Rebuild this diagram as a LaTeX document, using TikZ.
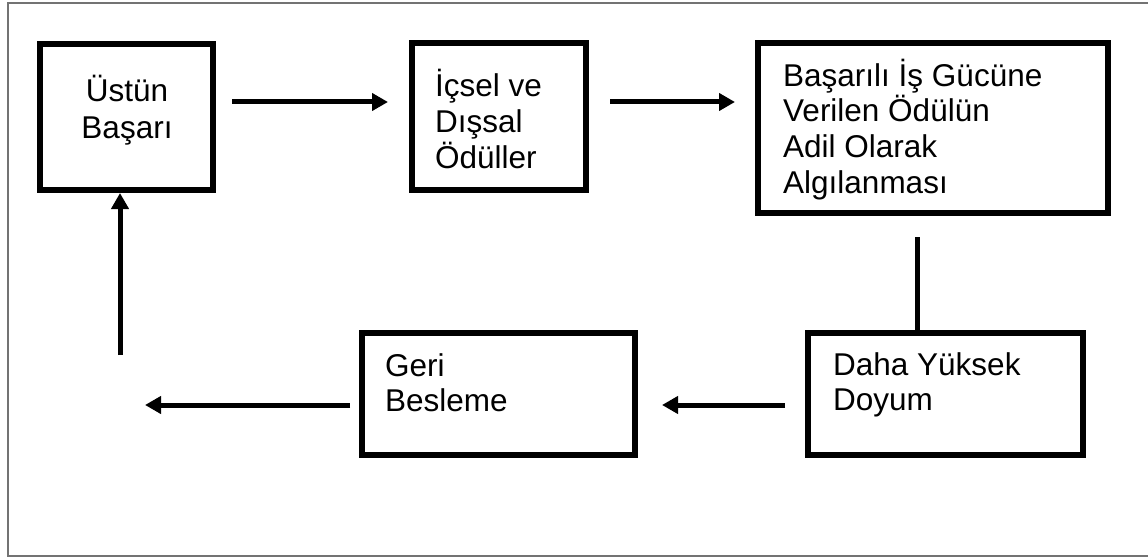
\documentclass[tikz,border=0pt]{standalone}
\usepackage{fontspec}
\setmainfont{Liberation Sans}
\usetikzlibrary{arrows.meta}
\begin{document}
\begin{tikzpicture}[x=1pt,y=-1pt,
  box/.style={draw=black,line width=6pt,inner sep=0pt,fill=white},
  label/.style={inner sep=0pt,align=left,font=\fontsize{31.5}{36}\selectfont},
  arrow/.style={line width=5pt,-{Triangle[length=16pt,width=17pt]}},
  link/.style={line width=5pt},
  frame/.style={draw=black!55,line width=2pt}]
\useasboundingbox (0,0) rectangle (1148,559);
% outer frame
\draw[frame] (8,3) rectangle (1152,556);
% boxes
\node[box,minimum width=173pt,minimum height=146pt] (b1) at (126.5,117) {};
\node[box,minimum width=174pt,minimum height=147pt] (b2) at (499,116.5) {};
\node[box,minimum width=350pt,minimum height=170pt] (b3) at (933,128) {};
\node[box,minimum width=273pt,minimum height=122pt] (b4) at (498.5,394) {};
\node[box,minimum width=275pt,minimum height=122pt] (b5) at (945.5,394) {};
% texts (anchored at the baseline of their last line)
\node[label,align=center,anchor=base,font=\fontsize{31.5}{37}\selectfont] (t1) at (127,139) {Üstün\\Başarı};
\node[label,anchor=base west] (t2) at (435,168) {İçsel ve\\Dışsal\\Ödüller};
\node[label,anchor=base west,font=\fontsize{31.5}{35.5}\selectfont] (t3) at (783,193) {Başarılı İş Gücüne\\Verilen Ödülün\\Adil Olarak\\Algılanması};
\node[label,anchor=base west,font=\fontsize{31.5}{35}\selectfont] (t4) at (385,411) {Geri\\Besleme};
\node[label,anchor=base west,font=\fontsize{31.5}{35}\selectfont] (t5) at (833,410) {Daha Yüksek\\Doyum};
% connectors
\coordinate (fb) at (145,405);
\coordinate (up) at (120,355);
\draw[arrow,shorten <=16pt,shorten >=21pt] ([yshift=15pt]b1.east) -- ([yshift=15pt]b1.east -| b2.west);
\draw[arrow,shorten <=21pt,shorten >=20pt] ([yshift=14.5pt]b2.east) -- ([yshift=14.5pt]b2.east -| b3.west);
\draw[link,shorten <=21pt] ([xshift=-16pt]b3.south) -- ([xshift=-16pt]b3.south |- b5.north);
\draw[arrow,shorten <=20pt,shorten >=24pt] ([yshift=-11pt]b5.west) -- ([yshift=-11pt]b5.west -| b4.east);
\draw[arrow,shorten <=9pt] ([yshift=-11pt]b4.west) -- (fb);
\draw[arrow] (up) -- (up |- b1.south);
\end{tikzpicture}
\end{document}
